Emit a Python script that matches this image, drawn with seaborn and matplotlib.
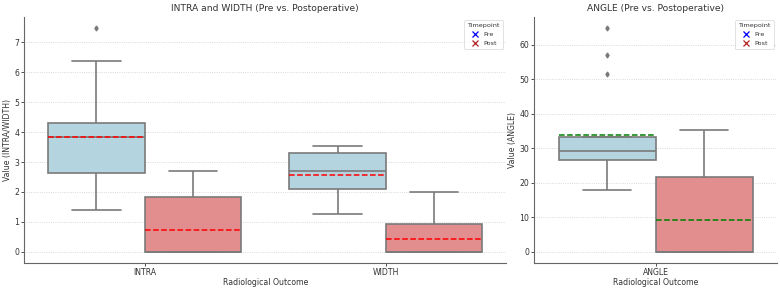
import pandas as pd
import numpy as np
import matplotlib.pyplot as plt
import seaborn as sns
from matplotlib.lines import Line2D

# made up samples, picked so the boxes match the reference picture
intra_pre = [1.40, 1.90, 2.62, 2.65, 3.82, 3.84, 4.31, 6.37, 7.47]
intra_post = [0.0, 0.0, 0.0, 0.0, 0.0, 0.10, 1.82, 1.85, 2.71]
width_pre = [1.27, 1.50, 2.10, 2.30, 2.71, 2.95, 3.29, 3.46, 3.55]
width_post = [0.0, 0.0, 0.0, 0.0, 0.0, 0.09, 0.93, 0.95, 1.99]
angle_pre = [17.9, 19.0, 22.0, 26.7, 27.0, 28.0, 29.1, 30.5, 31.85, 33.2, 51.6, 57.1, 64.8]
angle_post = [0.0, 0.0, 0.0, 0.0, 0.0, 2.85, 21.8, 22.5, 35.2]

timepoints = ['Pre', 'Post']

def long_df(outcome, pre, post):
    return pd.DataFrame({'Outcome': [outcome] * (len(pre) + len(post)),
                         'Timepoint': ['Pre'] * len(pre) + ['Post'] * len(post),
                         'Value': pre + post})

df_left = pd.concat([long_df('INTRA', intra_pre, intra_post),
                     long_df('WIDTH', width_pre, width_post)])
df_right = long_df('ANGLE', angle_pre, angle_post)

sns.set_style('ticks')
plt.rcParams['font.family'] = ['DejaVu Sans']

palette = {'Pre': 'lightblue', 'Post': 'lightcoral'}
line_col = '#7a7a7a'
flier = dict(marker='d', markerfacecolor=line_col, markeredgecolor=line_col, markersize=2.5)

fig = plt.figure(figsize=(7.8, 2.89), dpi=100)
ax1 = fig.add_axes([0.031, 0.090, 0.618, 0.851])
ax2 = fig.add_axes([0.685, 0.090, 0.311, 0.851])

def draw(ax, data, mean_color, title, ylabel):
    sns.boxplot(data=data, x='Outcome', y='Value', hue='Timepoint', hue_order=timepoints,
                palette=palette, linecolor=line_col, linewidth=1.2, flierprops=flier,
                showmeans=True, meanline=True,
                meanprops=dict(color=mean_color, linestyle='--', linewidth=1.1),
                legend=False, ax=ax)
    ax.set_title(title, fontsize=6.6, color='#333333', pad=4)
    ax.set_xlabel('Radiological Outcome', fontsize=5.6, color='#333333', labelpad=1)
    ax.set_ylabel(ylabel, fontsize=5.6, color='#333333', labelpad=2)
    ax.tick_params(labelsize=5.6, colors='#333333', length=2, width=0.6, pad=1.5)
    ax.yaxis.grid(True, linestyle=':', linewidth=0.6, color='#cccccc')
    ax.set_axisbelow(True)
    for s in ['top', 'right']:
        ax.spines[s].set_visible(False)
    for s in ['left', 'bottom']:
        ax.spines[s].set_color('#666666')
        ax.spines[s].set_linewidth(0.8)
    handles = [Line2D([], [], marker='x', color='blue', linestyle='', markersize=4, markeredgewidth=0.9),
               Line2D([], [], marker='x', color='firebrick', linestyle='', markersize=4, markeredgewidth=0.9)]
    leg = ax.legend(handles, timepoints, title='Timepoint', loc='upper right',
                    fontsize=4.6, title_fontsize=4.6, handletextpad=0.6, borderpad=0.5,
                    labelspacing=0.5, handlelength=1.5, borderaxespad=0.5)
    leg.get_frame().set_linewidth(0.5)
    for t in leg.get_texts():
        t.set_color('#333333')
    leg.get_title().set_color('#333333')

draw(ax1, df_left, 'red', 'INTRA and WIDTH (Pre vs. Postoperative)', 'Value (INTRA/WIDTH)')
draw(ax2, df_right, 'green', 'ANGLE (Pre vs. Postoperative)', 'Value (ANGLE)')

fig.savefig('out.png', dpi=100)
